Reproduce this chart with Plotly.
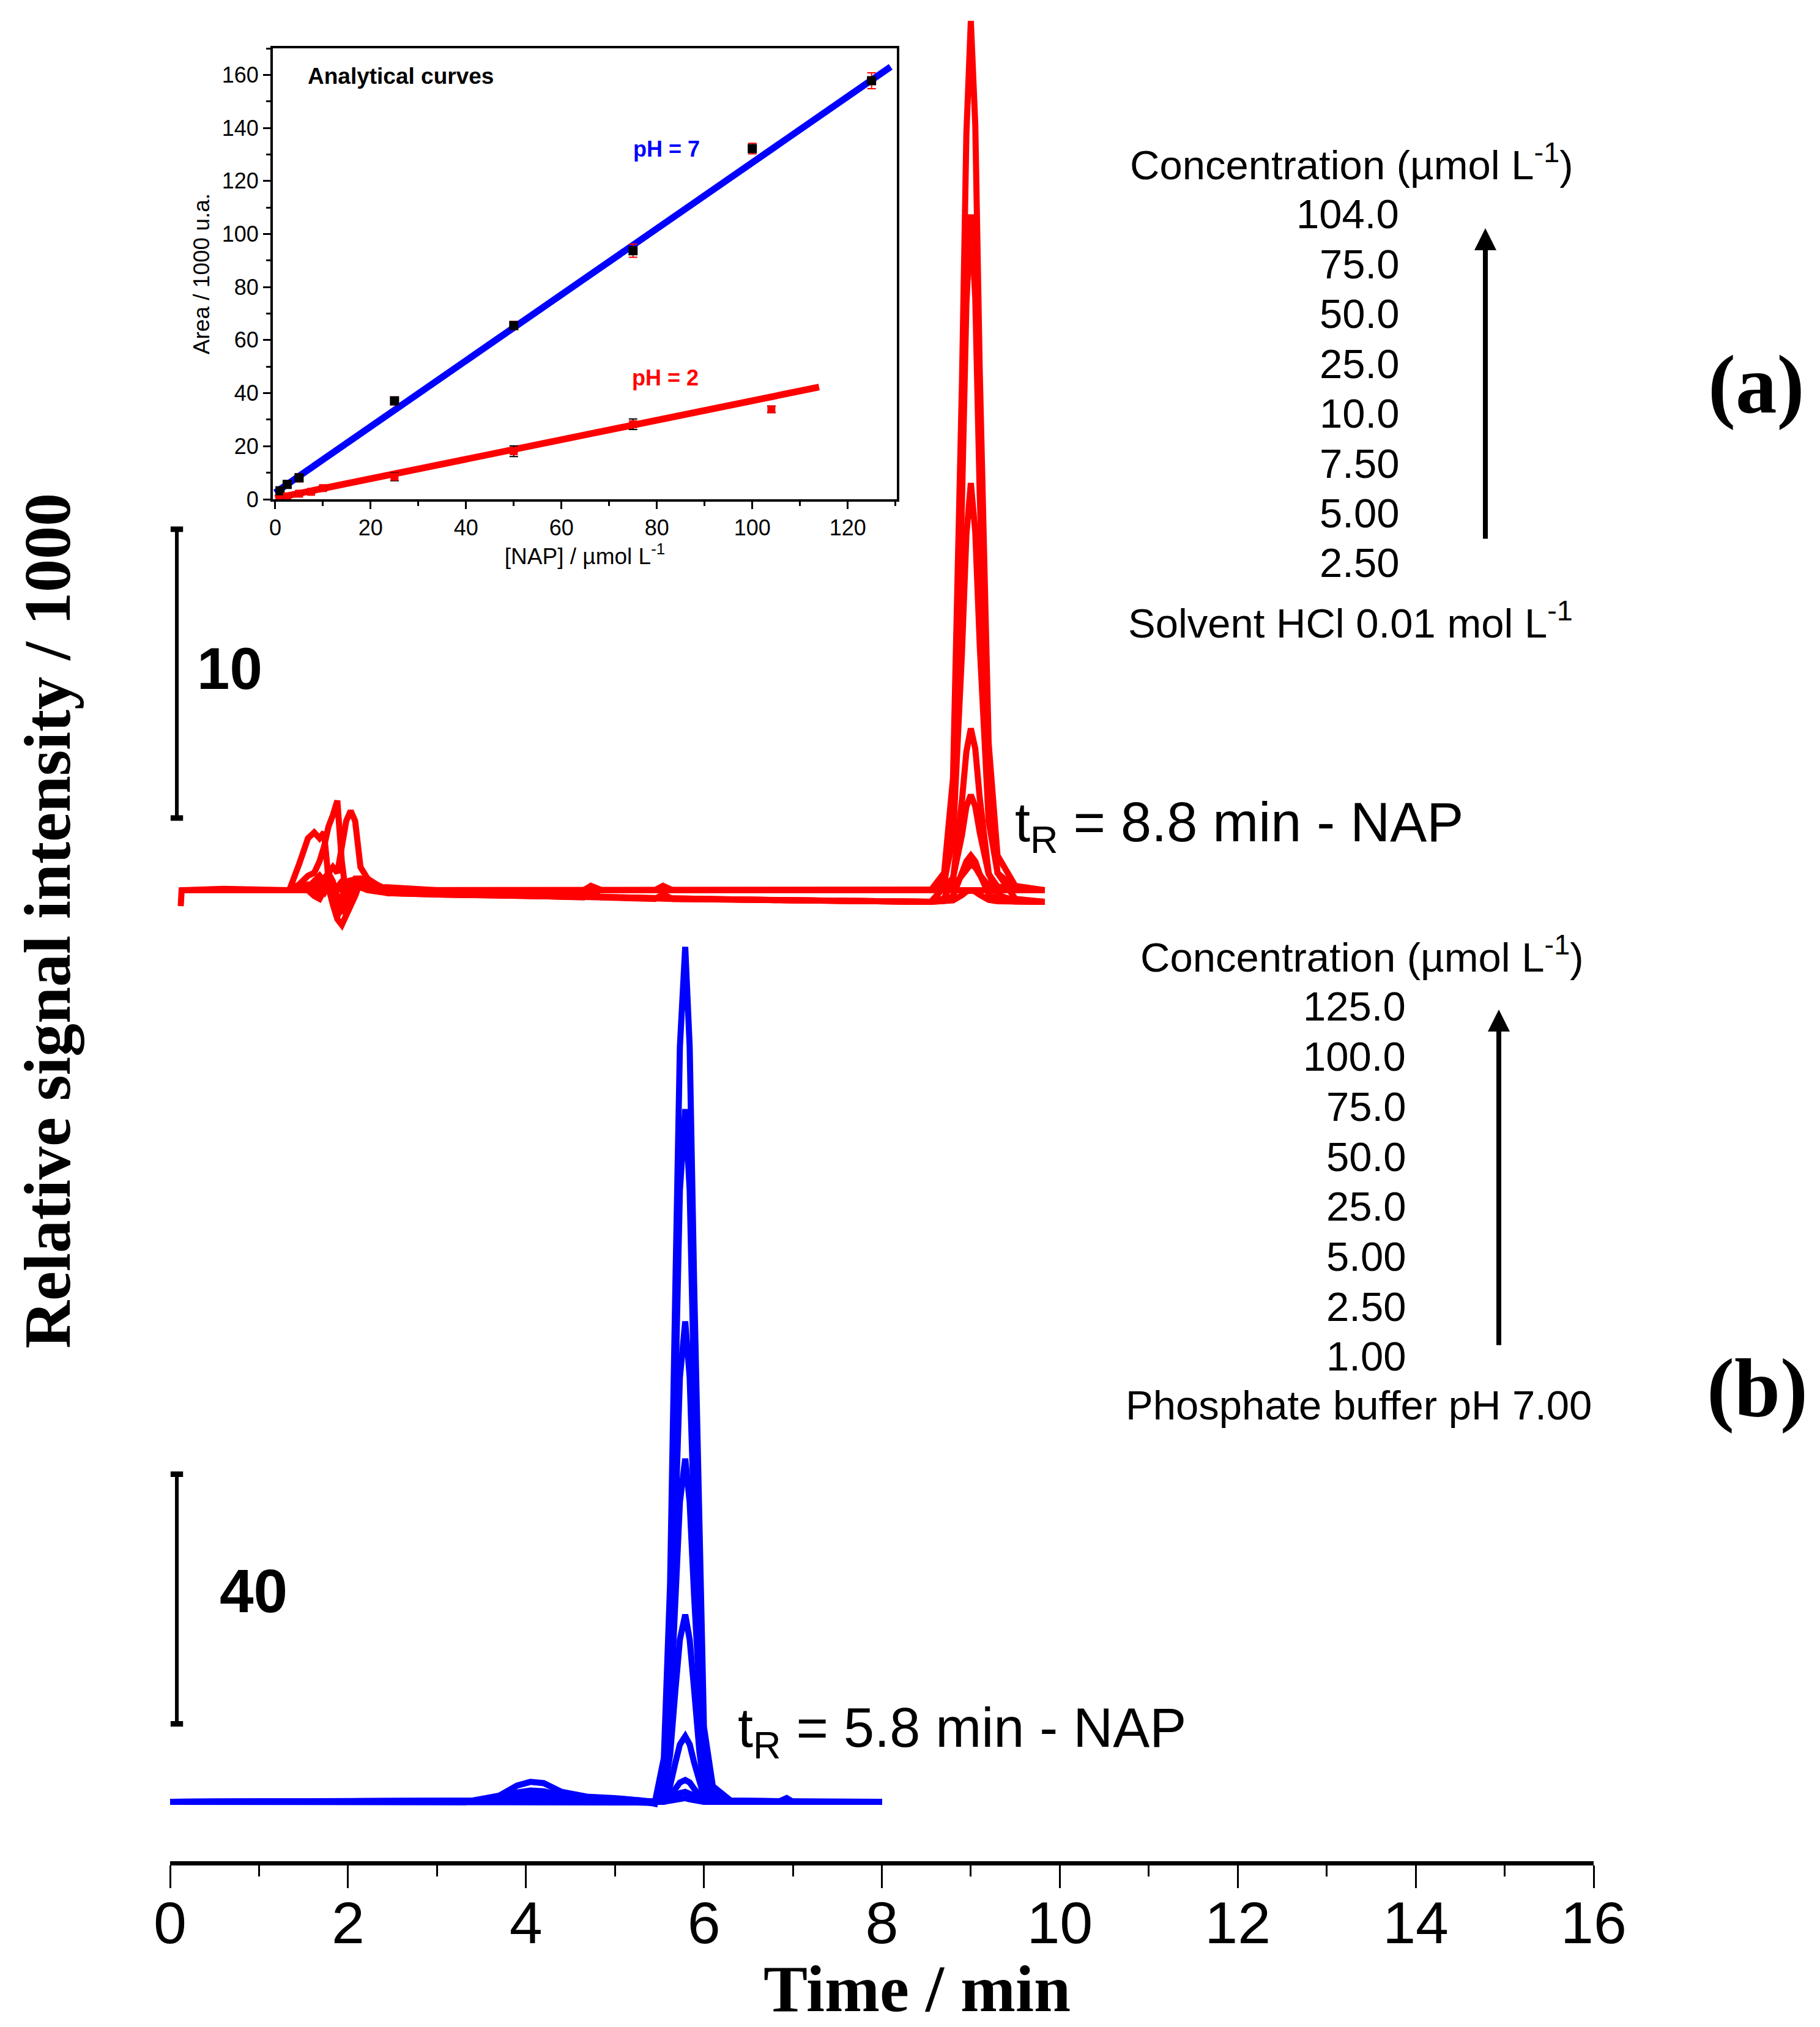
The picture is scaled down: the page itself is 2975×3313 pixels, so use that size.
import plotly.graph_objects as go

# ---------------- data: chromatograms (a) pH 2, red ----------------
RED_T = [0.12, 0.13, 0.6, 1.0, 1.34, 1.45, 1.55, 1.62, 1.68, 1.73, 1.78, 1.83, 1.88, 1.93,
         1.98, 2.03, 2.08, 2.14, 2.22, 2.32, 2.45, 3.0, 4.0, 4.65, 4.73, 4.85, 5.45, 5.54,
         5.65, 7.0, 8.55, 8.7, 8.8, 8.9, 8.95, 9.0, 9.05, 9.1, 9.2, 9.3, 9.5, 9.83]
RED_104 = [-0.55, 0, 0.05, 0.05, 0, 0.9, 1.8, 2.0, 1.8, 2.0, 0.4, -0.3, 0.1, 0.3, 0.3, 0.2, 0.4, 0.4,
           0.3, 0.1, 0.1, 0, 0, 0, 0.15, 0, 0, 0.15, 0, 0, 0, 0.6, 3.9, 17.5, 26.2, 30.1, 26.5, 18.0,
           5.1, 1.2, 0.15, 0]
RED_75 = [0, 0, 0.05, 0, 0, 0.2, 0.5, 0.6, 1.0, 1.5, 2.2, 2.6, 3.1, 1.0, -0.2, 0, 0.3, 0.4, 0.3,
          0.1, 0, -0.05, -0.15, -0.2, -0.2, -0.2, -0.3, -0.3, -0.3, -0.35, -0.4, 0.1, 2.7, 13.4, 20.3,
          23.4, 20.5, 13.7, 3.7, 0.6, -0.3, -0.4]
RED_50 = [0, 0, 0, 0, 0, 0, 0.1, 0.3, 0.5, 0.3, 0.1, -0.5, -1.0, -1.2, -0.9, -0.5, -0.2, 0.3, 0.4,
          0.2, 0, 0, 0, 0, 0, 0, 0, 0, 0, 0, 0, 0.3, 1.8, 8.2, 12.3, 14.1, 12.4, 8.5, 2.4, 0.6,
          0.07, 0]
RED_25 = [0, 0, 0, 0, 0, 0, 0.1, 0.2, 0.2, 0.4, 0.6, 0.8, 0.6, 1.5, 2.4, 2.75, 2.4, 0.8, 0.4, 0.1,
          -0.1, -0.1, -0.2, -0.25, -0.1, -0.25, -0.3, -0.15, -0.3, -0.35, -0.4, -0.28, 0.38, 3.1,
          4.8, 5.6, 4.9, 3.2, 0.6, -0.16, -0.37, -0.4]
RED_10 = [0, 0, 0, 0, 0, 0, 0, -0.2, -0.3, 0, 0.5, -0.4, -0.9, -0.6, -0.2, 0.4, 0.2, 0.2, 0.1,
          0.05, 0, 0, 0, 0, 0, 0, 0, 0, 0, 0, 0, 0.07, 0.43, 1.9, 2.9, 3.3, 2.9, 2.0, 0.56,
          0.13, 0.02, 0]
RED_7_5 = [0, 0, 0, 0, 0, 0, 0, -0.1, -0.2, 0.2, 0.6, 0.3, -0.3, -0.8, -0.5, -0.1, 0.3, 0.3, 0.2,
           0, -0.1, -0.15, -0.2, -0.25, -0.25, -0.25, -0.3, -0.3, -0.3, -0.35, -0.4, -0.37, -0.2,
           0.53, 1.0, 1.2, 1.0, 0.56, -0.13, -0.34, -0.39, -0.4]
RED_5 = [0, 0, 0, 0, 0, 0, 0, 0.1, 0, -0.1, 0.2, 0.1, -0.2, -0.4, -0.1, 0.1, 0.2, 0.1, 0.1, 0, 0,
         0, 0, 0, 0, 0, 0, 0, 0, 0, 0, 0.02, 0.12, 0.52, 0.78, 0.9, 0.79, 0.54, 0.15, 0.04,
         0, 0]
RED_2_5 = [0, 0, 0, 0, 0, 0, 0, 0, 0.1, 0.1, 0, -0.2, -0.3, -0.2, 0, 0.1, 0.1, 0.1, 0, -0.05,
           -0.1, -0.15, -0.2, -0.25, -0.25, -0.25, -0.3, -0.3, -0.3, -0.35, -0.4, -0.39, -0.35,
           -0.17, -0.05, 0.0, -0.05, -0.16, -0.33, -0.38, -0.4, -0.4]
RED_SOLVENT = [0, 0, 0, 0, 0, 0.1, 0.2, 0.1, 0, 0, 0.1, 0.2, 0.1, 0, 0.1, 0.2, 0.3, 0.2, 0.1, 0,
               0, 0, 0, 0, 0, 0, 0, 0, 0, 0, 0, 0, 0, 0, 0, 0, 0, 0, 0, 0, 0, 0]
RED_SERIES = [RED_104, RED_75, RED_50, RED_25, RED_10, RED_7_5, RED_5, RED_2_5, RED_SOLVENT]

# ---------------- data: chromatograms (b) pH 7, blue ----------------
BLUE_T = [0.0, 1.0, 1.7, 2.5, 3.4, 3.7, 3.9, 4.05, 4.2, 4.4, 4.7, 5.0, 5.3, 5.45, 5.55, 5.62,
          5.68, 5.73, 5.79, 5.84, 5.89, 5.95, 6.0, 6.1, 6.3, 6.85, 6.93, 7.0, 8.0]
BLUE_125 = [0, 0, 0.2, 0.1, 0.2, 1.0, 2.6, 3.2, 3.0, 1.6, 0.8, 0.6, 0.3, 0.0, 7, 35, 83, 121,
            137, 121, 83, 38, 12, 2.5, 0.2, 0.1, 0.1, 0, 0]
BLUE_100 = [0, 0, 0.1, 0.1, 0.1, 0.6, 1.5, 1.8, 1.7, 1.0, 0.6, 0.5, 0.2, -0.3, 5.5, 28, 66, 98,
            111, 98, 66, 30, 9.5, 2, 0.2, 0.1, 0.6, 0, 0]
BLUE_75 = [0, 0, 0.1, 0, 0.1, 0.5, 1.4, 1.7, 1.6, 0.9, 0.5, 0.4, 0.1, -0.3, 4, 19, 46, 68, 77,
           68, 46, 21, 6.6, 1.4, 0.1, 0, 0, 0, 0]
BLUE_50 = [0, 0, 0.1, 0, 0, 0.3, 0.8, 1.0, 0.9, 0.5, 0.3, 0.2, 0, -0.2, 3, 14, 33, 48, 55, 48,
           33, 15, 4.7, 1, 0.1, 0, 0, 0, 0]
BLUE_25 = [0, 0, 0, 0, 0, 0.2, 0.5, 0.6, 0.5, 0.3, 0.2, 0.1, 0, -0.2, 1.5, 7.5, 18, 26, 30, 26,
           18, 8, 2.6, 0.5, 0, 0, 0, 0, 0]
BLUE_5 = [0, 0, 0, 0, 0, 0.1, 0.2, 0.3, 0.3, 0.2, 0.1, 0.1, 0, -0.1, 0.5, 2.6, 6.3, 9.2, 10.5,
          9.2, 6.3, 2.8, 0.9, 0.2, 0, 0, 0, 0, 0]
BLUE_2_5 = [0, 0, 0, 0, 0, 0, 0.1, 0.1, 0.1, 0.1, 0, 0, 0, -0.1, 0.2, 0.9, 2.1, 3.1, 3.5, 3.1,
            2.1, 0.9, 0.3, 0.1, 0, 0, 0, 0, 0]
BLUE_1 = [0, 0, 0, 0, 0, 0, 0, 0.1, 0, 0, 0, 0, 0, -0.1, 0.1, 0.4, 1.0, 1.4, 1.6, 1.4, 1.0, 0.4,
          0.1, 0, 0, 0, 0, 0, 0]
BLUE_BUFFER = [0, 0, 0, 0, 0, 0, 0, 0, 0, 0, 0, 0, -0.1, -0.2, 0, 0.2, 0.4, 0.6, 0.6, 0.4, 0.2,
               0.1, 0, 0, 0, 0, 0, 0, 0]
BLUE_SERIES = [BLUE_125, BLUE_100, BLUE_75, BLUE_50, BLUE_25, BLUE_5, BLUE_2_5, BLUE_1, BLUE_BUFFER]

# ---------------- data: inset analytical curves ----------------
PH7_CONC = [1, 2.5, 5, 25, 50, 75, 100, 125]
PH7_AREA = [3.2, 5.6, 8.1, 37.1, 65.5, 93.7, 132.2, 157.8]
PH7_ERR = [1.0, 1.0, 1.5, 1.5, 1.5, 2.5, 2.0, 3.0]
PH2_CONC = [2.5, 5, 7.5, 10, 25, 50, 75, 104]
PH2_AREA = [1.1, 2.1, 2.8, 4.2, 8.5, 18.1, 28.3, 33.9]
PH2_ERR = [0.5, 0.5, 0.5, 0.6, 1.5, 2.0, 2.0, 1.2]
PH7_FIT_X = [0, 129]
PH7_FIT_Y = [2.5, 163.0]
PH2_FIT_X = [0, 114]
PH2_FIT_Y = [0.4, 42.3]

# ---------------- texts ----------------
CONC_A = ["104.0", "75.0", "50.0", "25.0", "10.0", "7.50", "5.00", "2.50"]
CONC_B = ["125.0", "100.0", "75.0", "50.0", "25.0", "5.00", "2.50", "1.00"]
RED_SCALE = (2.5, 12.5)     # 10 units (x1000)
BLUE_SCALE = (12.5, 52.5)   # 40 units (x1000)

RED = "#FF0000"
BLUE = "#0000FF"
SANS = "Liberation Sans"
SERIF = "Liberation Serif"

W, H = 2975, 3313
L, R, T, B = 278, 370, 0, 271
PW, PH = W - L - R, H - T - B


def X(px):
    return (px - L) / PW


def Y(py):
    return 1 - (py - T) / PH


fig = go.Figure()

for ys in BLUE_SERIES:
    fig.add_trace(go.Scatter(x=BLUE_T, y=ys, mode="lines", line=dict(color=BLUE, width=10),
                             xaxis="x", yaxis="y", showlegend=False, hoverinfo="skip"))
for ys in RED_SERIES:
    fig.add_trace(go.Scatter(x=RED_T, y=ys, mode="lines", line=dict(color=RED, width=10),
                             xaxis="x", yaxis="y2", showlegend=False, hoverinfo="skip"))

# inset
fig.add_trace(go.Scatter(x=PH7_FIT_X, y=PH7_FIT_Y, mode="lines", line=dict(color=BLUE, width=11),
                         xaxis="x2", yaxis="y3", showlegend=False))
fig.add_trace(go.Scatter(x=PH2_FIT_X, y=PH2_FIT_Y, mode="lines", line=dict(color=RED, width=11),
                         xaxis="x2", yaxis="y3", showlegend=False))
fig.add_trace(go.Scatter(x=PH7_CONC, y=PH7_AREA, mode="markers",
                         marker=dict(symbol="square", size=15, color="black"),
                         error_y=dict(type="data", array=PH7_ERR, color=RED, thickness=2, width=7),
                         xaxis="x2", yaxis="y3", showlegend=False))
fig.add_trace(go.Scatter(x=PH2_CONC, y=PH2_AREA, mode="markers",
                         marker=dict(symbol="square", size=13, color=RED),
                         error_y=dict(type="data", array=PH2_ERR, color="black", thickness=2, width=7),
                         xaxis="x2", yaxis="y3", showlegend=False))

# axis ranges: baseline pixel positions and px per unit
blue_base, blue_ppu = 2945, 10.2
red_base, red_ppu = 1455, 47.2
blue_range = [-(PH - blue_base) / blue_ppu, blue_base / blue_ppu]
red_range = [-(PH - red_base) / red_ppu, red_base / red_ppu]

inset_x0, inset_x1, inset_y0, inset_y1 = 446, 1466, 79, 816

fig.update_layout(
    width=W, height=H, margin=dict(l=L, r=R, t=T, b=B, autoexpand=False),
    paper_bgcolor="white", plot_bgcolor="rgba(0,0,0,0)",
    font=dict(family=SANS, color="black"),
    xaxis=dict(domain=[0, 1], range=[0, 16], anchor="y", showline=True, linewidth=7,
               linecolor="black", ticks="outside", ticklen=37, tickwidth=3, tickcolor="black",
               dtick=2, tick0=0, showgrid=False, zeroline=False, ticklabelstandoff=-26,
               tickfont=dict(family=SANS, size=97, color="black"),
               minor=dict(dtick=1, ticks="outside", ticklen=18, tickwidth=3, tickcolor="black")),
    yaxis=dict(domain=[0, 1], range=blue_range, visible=False, fixedrange=True),
    yaxis2=dict(range=red_range, overlaying="y", visible=False),
    xaxis2=dict(domain=[X(inset_x0), X(inset_x1)], anchor="y3", range=[-0.5, 130.3],
                showline=True, linewidth=4, linecolor="black", mirror=True,
                ticks="outside", ticklen=12, tickwidth=3, tickcolor="black", dtick=20, tick0=0,
                showgrid=False, zeroline=False, tickfont=dict(family=SANS, size=36),
                minor=dict(dtick=10, ticks="outside", ticklen=7, tickwidth=3, tickcolor="black"),
                title=dict(text="[NAP] / \u00b5mol L<sup>-1</sup>", font=dict(family=SANS, size=37),
                           standoff=8)),
    yaxis3=dict(domain=[Y(inset_y1), Y(inset_y0)], anchor="x2", range=[0, 170],
                showline=True, linewidth=4, linecolor="black", mirror=True,
                ticks="outside", ticklen=12, tickwidth=3, tickcolor="black", dtick=20, tick0=0,
                showgrid=False, zeroline=False, tickfont=dict(family=SANS, size=36),
                minor=dict(dtick=10, ticks="outside", ticklen=7, tickwidth=3, tickcolor="black"),
                title=dict(text="Area / 1000 u.a.", font=dict(family=SANS, size=37), standoff=10)),
)

ann = []


def txt(text, px, py, size, xanchor="left", yanchor="middle", family=SANS, color="black", **kw):
    ann.append(dict(text=text, x=X(px), y=Y(py), xref="paper", yref="paper", showarrow=False,
                    xanchor=xanchor, yanchor=yanchor, font=dict(family=family, size=size, color=color),
                    **kw))


# panel (a) labels
txt("Concentration (\u00b5mol L<sup>-1</sup>)", 1845, 265, 67)
for i, s in enumerate(CONC_A):
    txt(s, 2289, 350 + i * 81.4, 67, xanchor="right")
txt("Solvent HCl 0.01 mol L<sup>-1</sup>", 1842, 1014, 67)
txt("<b>(a)</b>", 2870, 628, 135, xanchor="center", family=SERIF)
txt("t<sub>R</sub> = 8.8 min - NAP", 1657, 1350, 90)

# panel (b) labels
txt("Concentration (\u00b5mol L<sup>-1</sup>)", 1862, 1560, 67)
for i, s in enumerate(CONC_B):
    txt(s, 2300, 1645 + i * 81.7, 67, xanchor="right")
txt("Phosphate buffer pH 7.00", 1838, 2296, 67)
txt("<b>(b)</b>", 2872, 2268, 135, xanchor="center", family=SERIF)
txt("t<sub>R</sub> = 5.8 min - NAP", 1204, 2830, 90)

# scale bar labels
txt("<b>10</b>", 320, 1092, 96)
txt("<b>40</b>", 357, 2600, 100)

# axis titles
txt("<b>Time / min</b>", 1499, 3250, 108, xanchor="center", family=SERIF)
txt("<b>Relative signal intensity / 1000</b>", 78, 1505, 108, xanchor="center", family=SERIF,
    textangle=-90)

# inset labels
ann.append(dict(text="<b>Analytical curves</b>", x=6.6, y=159.5, xref="x2", yref="y3", showarrow=False,
                xanchor="left", yanchor="middle", font=dict(family=SANS, size=37, color="black")))
ann.append(dict(text="<b>pH = 7</b>", x=82.0, y=132, xref="x2", yref="y3", showarrow=False,
                xanchor="center", yanchor="middle", font=dict(family=SANS, size=36, color=BLUE)))
ann.append(dict(text="<b>pH = 2</b>", x=81.7, y=45.9, xref="x2", yref="y3", showarrow=False,
                xanchor="center", yanchor="middle", font=dict(family=SANS, size=36, color=RED)))

# arrows
for (ax_px, tip_py, tail_py) in [(2428, 373, 882), (2450, 1650, 2200)]:
    ann.append(dict(text="", x=X(ax_px), y=Y(tip_py), xref="paper", yref="paper", showarrow=True,
                    ax=0, ay=tail_py - tip_py, axref="pixel", ayref="pixel",
                    arrowhead=2, arrowsize=0.9, arrowwidth=8, arrowcolor="black"))

fig.update_layout(annotations=ann)

# scale bars (in data units of each panel)
shapes = []
bar_t, cap = 0.076, 0.07
for yref, (y0, y1) in [("y2", RED_SCALE), ("y", BLUE_SCALE)]:
    shapes.append(dict(type="line", xref="x", yref=yref, x0=bar_t, x1=bar_t, y0=y0, y1=y1,
                       line=dict(color="black", width=6)))
    for yy in (y0, y1):
        shapes.append(dict(type="line", xref="x", yref=yref, x0=bar_t - cap, x1=bar_t + cap,
                           y0=yy, y1=yy, line=dict(color="black", width=9)))
fig.update_layout(shapes=shapes)

fig.write_html("out.html", config={"displayModeBar": False},
               post_script="document.body.style.margin='0';")
